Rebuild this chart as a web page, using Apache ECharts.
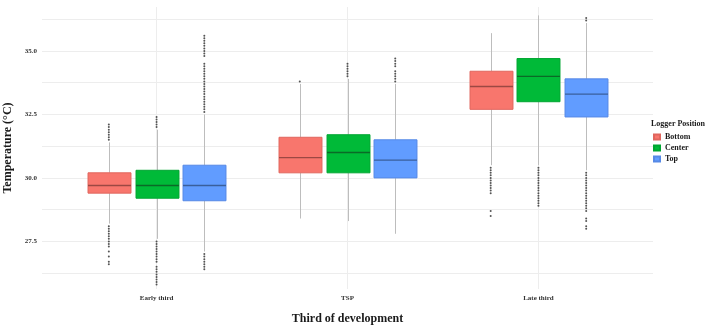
<!DOCTYPE html>
<html>
<head>
<meta charset="utf-8">
<script src="https://cdn.jsdelivr.net/npm/echarts@6/dist/echarts.min.js"></script>
<style>
  html, body { margin: 0; padding: 0; background: #fff; }
  #chart { width: 709px; height: 328px; }
</style>
</head>
<body>
<div id="chart"></div>
<script>
const categories = ['Early third', 'TSP', 'Late third'];
const positions = ['Bottom', 'Center', 'Top'];
const yTickLabels = [27.5, 30.0, 32.5, 35.0];
const yGridValues = [26.25, 27.5, 28.75, 30.0, 31.25, 32.5, 33.75, 35.0, 36.25];

// [lower whisker, Q1, median, Q3, upper whisker] per third
const bottomStats = [[28.2, 29.4, 29.7, 30.2, 31.4], [28.4, 30.2, 30.8, 31.6, 33.7], [30.5, 32.7, 33.6, 34.2, 35.7]];
const centerStats = [[27.6, 29.2, 29.7, 30.3, 31.9], [28.3, 30.2, 31.0, 31.7, 33.9], [30.5, 33.0, 34.0, 34.7, 36.4]];
const topStats = [[27.1, 29.1, 29.7, 30.5, 32.5], [27.8, 30.0, 30.7, 31.5, 33.7], [30.3, 32.4, 33.3, 33.9, 36.1]];

// outliers per third
const bottomOutliers = [
  [31.5, 31.6, 31.7, 31.8, 31.9, 32.0, 32.1, 28.1, 28.0, 27.9, 27.8, 27.7, 27.6, 27.5, 27.4, 27.3, 27.1, 26.9, 26.7, 26.6],
  [33.8],
  [30.4, 30.3, 30.2, 30.1, 30.0, 29.9, 29.8, 29.7, 29.6, 29.5, 29.4, 28.7, 28.5]
];
const centerOutliers = [
  [32.0, 32.1, 32.2, 32.3, 32.4, 27.5, 27.4, 27.3, 27.2, 27.1, 27.0, 26.9, 26.8, 26.7, 26.5, 26.4, 26.3, 26.2, 26.1, 26.0, 25.9, 25.8],
  [34.0, 34.1, 34.2, 34.3, 34.4, 34.5],
  [30.4, 30.3, 30.2, 30.1, 30.0, 29.9, 29.8, 29.7, 29.6, 29.5, 29.4, 29.3, 29.2, 29.1, 29.0, 28.9]
];
const topOutliers = [
  [32.6, 32.7, 32.8, 32.9, 33.0, 33.1, 33.2, 33.3, 33.4, 33.5, 33.6, 33.7, 33.8, 33.9, 34.0, 34.1, 34.2, 34.3, 34.4, 34.5,
   34.8, 34.9, 35.0, 35.1, 35.2, 35.3, 35.4, 35.5, 35.6, 27.0, 26.9, 26.8, 26.7, 26.6, 26.5, 26.4],
  [33.8, 33.9, 34.0, 34.1, 34.2, 34.4, 34.5, 34.6, 34.7],
  [36.2, 36.3, 30.2, 30.1, 30.0, 29.9, 29.8, 29.7, 29.6, 29.5, 29.4, 29.3, 29.2, 29.1, 29.0, 28.9, 28.8, 28.7, 28.4, 28.3, 28.1, 28.0]
];

const fills = ['#F8766D', '#00BA38', '#619CFF'];
const borders = ['#e0665e', '#00a632', '#5689e6'];
const medians = ['#9c4843', '#0b6a27', '#3a5f9c'];
const WHISKER = '#bdbdbd';
const DODGE = 0.25;
const BOX_WIDTH = 0.225;
const FONT = '"Liberation Serif", "Times New Roman", serif';

const statsList = [bottomStats, centerStats, topStats];
const outlierList = [bottomOutliers, centerOutliers, topOutliers];

function makeRenderer(k) {
  return function (params, api) {
    const x = api.value(0);
    const lo = api.coord([x, api.value(1)]);
    const q1 = api.coord([x, api.value(2)]);
    const md = api.coord([x, api.value(3)]);
    const q3 = api.coord([x, api.value(4)]);
    const hi = api.coord([x, api.value(5)]);
    const w = api.size([BOX_WIDTH, 0])[0];
    const cx = Math.round(q1[0]) + 0.5;
    return {
      type: 'group',
      children: [
        { type: 'line', shape: { x1: cx, y1: lo[1], x2: cx, y2: q1[1] }, style: { stroke: WHISKER, lineWidth: 1 } },
        { type: 'line', shape: { x1: cx, y1: q3[1], x2: cx, y2: hi[1] }, style: { stroke: WHISKER, lineWidth: 1 } },
        { type: 'rect', shape: { x: cx - w / 2, y: q3[1], width: w, height: q1[1] - q3[1] },
          style: { fill: fills[k], stroke: borders[k], lineWidth: 1 } },
        { type: 'line', shape: { x1: cx - w / 2, y1: md[1], x2: cx + w / 2, y2: md[1] },
          style: { stroke: medians[k], lineWidth: 1.3 } }
      ]
    };
  };
}

const series = [];
positions.forEach(function (name, k) {
  const xs = categories.map(function (c, i) { return i + 1 + (k - 1) * DODGE; });
  series.push({
    name: name,
    type: 'custom',
    renderItem: makeRenderer(k),
    itemStyle: { color: fills[k], borderColor: borders[k], borderWidth: 1 },
    encode: { x: 0, y: [1, 2, 3, 4, 5] },
    data: statsList[k].map(function (s, i) { return [xs[i]].concat(s); }),
    z: 2
  });
  const pts = [];
  outlierList[k].forEach(function (vals, i) {
    vals.forEach(function (v) { pts.push([xs[i], v]); });
  });
  series.push({
    name: name + ' outliers',
    type: 'scatter',
    symbol: 'circle',
    symbolSize: 2,
    itemStyle: { color: '#2b2b2b' },
    data: pts,
    z: 3,
    silent: true
  });
});

const chart = echarts.init(document.getElementById('chart'));
chart.setOption({
  animation: false,
  backgroundColor: '#fff',
  title: {
    text: 'Logger Position',
    left: 651,
    top: 120,
    padding: 0,
    textStyle: { fontFamily: FONT, fontWeight: 'bold', fontSize: 8, color: '#1a1a1a' }
  },
  legend: {
    data: positions,
    orient: 'vertical',
    left: 653,
    top: 133,
    padding: 0,
    itemWidth: 6,
    itemHeight: 5,
    itemGap: 3,
    icon: 'rect',
    textStyle: { fontFamily: FONT, fontWeight: 'bold', fontSize: 8, color: '#1a1a1a', lineHeight: 8 }
  },
  grid: { left: 42, right: 56, top: 7, bottom: 39, containLabel: false, outerBoundsMode: 'none' },
  xAxis: {
    type: 'value',
    min: 0.4,
    max: 3.6,
    name: 'Third of development',
    nameLocation: 'middle',
    nameGap: 24,
    nameTextStyle: { fontFamily: FONT, fontWeight: 'bold', fontSize: 12, color: '#1a1a1a' },
    axisLine: { show: false },
    axisTick: { show: false, customValues: [1, 2, 3] },
    axisLabel: {
      customValues: [1, 2, 3],
      margin: 6,
      fontFamily: FONT, fontWeight: 'bold', fontSize: 7, color: '#333',
      formatter: function (v) { return categories[Math.round(v) - 1] || ''; }
    },
    splitLine: { show: true, lineStyle: { color: '#ededed', width: 1 } }
  },
  yAxis: {
    type: 'value',
    min: 25.625,
    max: 36.73,
    name: 'Temperature (°C)',
    nameLocation: 'middle',
    nameGap: 28,
    nameTextStyle: { fontFamily: FONT, fontWeight: 'bold', fontSize: 12, color: '#1a1a1a' },
    axisLine: { show: false },
    axisTick: { show: false, customValues: yGridValues },
    axisLabel: {
      customValues: yTickLabels,
      margin: 5,
      fontFamily: FONT, fontWeight: 'bold', fontSize: 7, color: '#333',
      formatter: function (v) { return v.toFixed(1); }
    },
    splitLine: { show: true, lineStyle: { color: '#ededed', width: 1 } }
  },
  series: series
});
</script>
</body>
</html>
